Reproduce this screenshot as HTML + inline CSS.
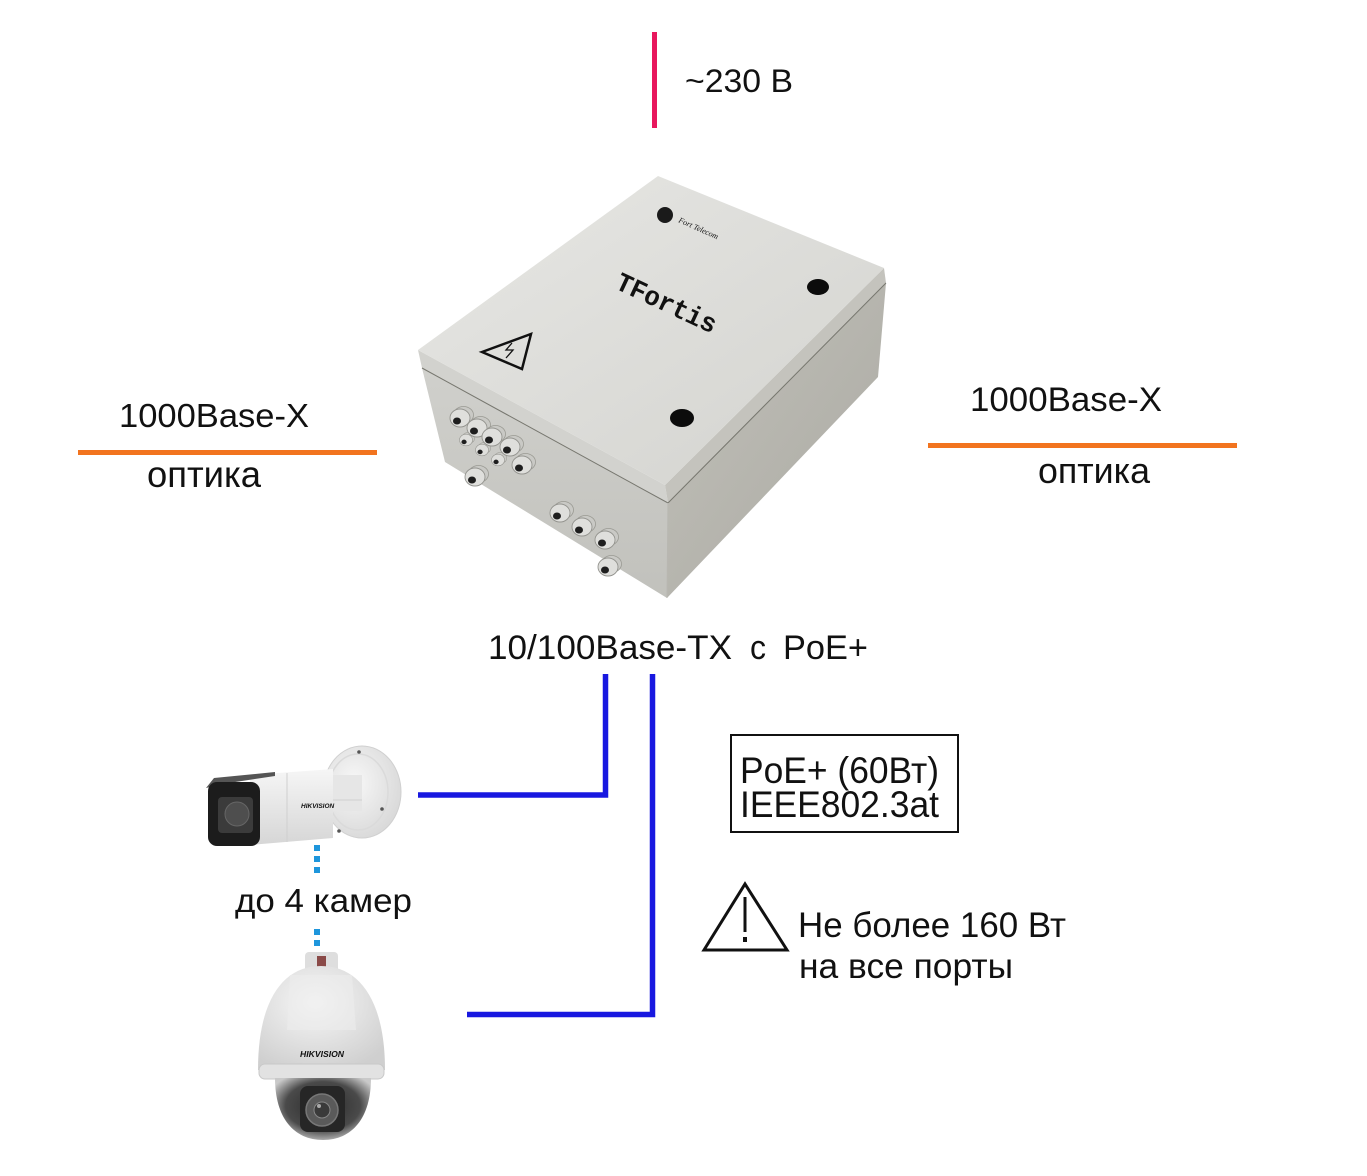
<!DOCTYPE html>
<html><head><meta charset="utf-8"><style>
html,body{margin:0;padding:0;background:#fff;}
svg{display:block}
text{font-family:"Liberation Sans","DejaVu Sans",sans-serif;fill:#111}
</style></head><body>
<svg width="1367" height="1176" viewBox="0 0 1367 1176" xmlns="http://www.w3.org/2000/svg">
<defs>
  <linearGradient id="gTop" x1="0" y1="0" x2="1" y2="1">
    <stop offset="0" stop-color="#e7e7e4"/><stop offset="1" stop-color="#d3d3cf"/>
  </linearGradient>
  <linearGradient id="gLeft" x1="0" y1="0" x2="0" y2="1">
    <stop offset="0" stop-color="#d0d0cc"/><stop offset="1" stop-color="#c1c1bc"/>
  </linearGradient>
  <linearGradient id="gRight" x1="0" y1="0" x2="1" y2="1">
    <stop offset="0" stop-color="#c2c1ba"/><stop offset="1" stop-color="#aaa9a2"/>
  </linearGradient>
  <linearGradient id="gBody" x1="0" y1="0" x2="0" y2="1">
    <stop offset="0" stop-color="#f6f6f6"/><stop offset="1" stop-color="#d6d6d6"/>
  </linearGradient>
  <radialGradient id="gBell" cx="0.45" cy="0.35" r="0.7">
    <stop offset="0" stop-color="#f7f7f7"/><stop offset="1" stop-color="#cfcfcf"/>
  </radialGradient>
  <radialGradient id="gDome" cx="0.5" cy="0.45" r="0.6">
    <stop offset="0" stop-color="#2a2a2a"/><stop offset="0.65" stop-color="#4a4a4a"/><stop offset="1" stop-color="#c9c9c9"/>
  </radialGradient>
  <radialGradient id="gDisk" cx="0.4" cy="0.4" r="0.7">
    <stop offset="0" stop-color="#f8f8f8"/><stop offset="1" stop-color="#d6d6d6"/>
  </radialGradient>
  <g id="gl">
    <ellipse cx="3.5" cy="-3" rx="10" ry="8.5" fill="#c9c9c5" stroke="#9a9a93" stroke-width="0.8"/>
    <ellipse cx="0" cy="0" rx="10" ry="9" fill="#dfdfdc" stroke="#94948f" stroke-width="0.9"/>
    <ellipse cx="-3" cy="3" rx="4" ry="3.5" fill="#1e1e1e"/>
  </g>
</defs>

<!-- power line -->
<rect x="652" y="32" width="5" height="96" fill="#e8175d"/>
<text x="685" y="92" font-size="32" textLength="108" lengthAdjust="spacingAndGlyphs">~230 В</text>

<!-- optical lines -->
<rect x="78" y="450" width="299" height="5" fill="#f2741f"/>
<text x="119" y="427" font-size="33" textLength="190" lengthAdjust="spacingAndGlyphs">1000Base-X</text>
<text x="147" y="487" font-size="37" textLength="114" lengthAdjust="spacingAndGlyphs">оптика</text>

<rect x="928" y="443" width="309" height="5" fill="#f2741f"/>
<text x="970" y="411" font-size="34" textLength="192" lengthAdjust="spacingAndGlyphs">1000Base-X</text>
<text x="1038" y="483" font-size="36" textLength="112" lengthAdjust="spacingAndGlyphs">оптика</text>

<!-- TFortis box -->
<g>
  <polygon points="668,503 886,283 878,377 667,598" fill="url(#gRight)"/>
  <polygon points="422,368 668,503 667,598 445,462" fill="url(#gLeft)"/>
  <polygon points="418,350 665,485 668,503 422,368" fill="#d2d2ce"/>
  <polygon points="665,485 884,268 886,283 668,503" fill="#c4c3bd"/>
  <polygon points="658,176 884,268 665,485 418,350" fill="url(#gTop)"/>
  <polyline points="422,368 668,503 886,283" fill="none" stroke="#77776f" stroke-width="1"/>
  <line x1="668" y1="503" x2="667" y2="598" stroke="#b8b7b1" stroke-width="1"/>

  <circle cx="665" cy="215" r="8" fill="#1a1a1a"/>
  <text x="678" y="222" font-size="8" transform="rotate(24 678 222)" style="font-family:'Liberation Serif',serif;font-style:italic" fill="#222">Fort Telecom</text>
  <text x="614" y="288" font-size="27" font-weight="bold" transform="rotate(25 614 288)" textLength="108" lengthAdjust="spacingAndGlyphs" style="font-family:'Liberation Mono','Liberation Serif',monospace" fill="#151515">TFortis</text>
  <polygon points="482,352 531,334 522,369" fill="none" stroke="#111" stroke-width="2.5" stroke-linejoin="miter"/>
  <polyline points="512,343 506,350 513,350 506,358" fill="none" stroke="#111" stroke-width="1.3"/>
  <ellipse cx="818" cy="287" rx="11" ry="8" fill="#0c0c0c"/>
  <ellipse cx="682" cy="418" rx="12" ry="9" fill="#0c0c0c"/>

  <use href="#gl" transform="translate(466,440) scale(0.65)"/>
  <use href="#gl" transform="translate(482,450) scale(0.65)"/>
  <use href="#gl" transform="translate(498,460) scale(0.65)"/>
  <use href="#gl" transform="translate(460,418)"/>
  <use href="#gl" transform="translate(477,428)"/>
  <use href="#gl" transform="translate(492,437)"/>
  <use href="#gl" transform="translate(510,447)"/>
  <use href="#gl" transform="translate(522,465)"/>
  <use href="#gl" transform="translate(475,477)"/>
  <use href="#gl" transform="translate(608,567)"/>
  <use href="#gl" transform="translate(560,513)"/>
  <use href="#gl" transform="translate(582,527)"/>
  <use href="#gl" transform="translate(605,540)"/>
</g>

<!-- 10/100 label -->
<text x="488" y="659" font-size="34" textLength="244" lengthAdjust="spacingAndGlyphs">10/100Base-TX</text>
<text x="750" y="659" font-size="34" textLength="16" lengthAdjust="spacingAndGlyphs">с</text>
<text x="783" y="659" font-size="34" textLength="85" lengthAdjust="spacingAndGlyphs">PoE+</text>

<!-- blue connectors -->
<path d="M605.5,674 V795 H418" fill="none" stroke="#1818e0" stroke-width="5.5"/>
<path d="M652.5,674 V1014.5 H467" fill="none" stroke="#1818e0" stroke-width="5.5"/>

<!-- PoE box -->
<rect x="731" y="735" width="227" height="97" fill="none" stroke="#111" stroke-width="2"/>
<text x="740" y="783" font-size="37" textLength="199" lengthAdjust="spacingAndGlyphs">PoE+ (60Вт)</text>
<text x="740" y="817" font-size="37" textLength="199" lengthAdjust="spacingAndGlyphs">IEEE802.3at</text>

<!-- warning -->
<polygon points="704,950 745,884 787,950" fill="none" stroke="#111" stroke-width="3" stroke-linejoin="miter"/>
<line x1="745" y1="897" x2="745" y2="932" stroke="#111" stroke-width="3"/>
<rect x="743" y="937" width="4" height="5" fill="#111"/>
<text x="798" y="937" font-size="35" textLength="268" lengthAdjust="spacingAndGlyphs">Не более 160 Вт</text>
<text x="799" y="978" font-size="35" textLength="214" lengthAdjust="spacingAndGlyphs">на все порты</text>

<!-- bullet camera -->
<g>
  <ellipse cx="362" cy="792" rx="39" ry="46" fill="url(#gDisk)" stroke="#d0d0d0" stroke-width="1"/>
  <ellipse cx="358" cy="792" rx="30" ry="38" fill="none" stroke="#dadada" stroke-width="1.5"/>
  <circle cx="359" cy="752" r="1.8" fill="#555"/>
  <circle cx="382" cy="809" r="1.8" fill="#555"/>
  <circle cx="339" cy="831" r="1.8" fill="#555"/>
  <rect x="325" y="775" width="37" height="36" fill="#e6e6e6"/>
  <line x1="325" y1="800" x2="362" y2="800" stroke="#d0d0d0"/>
  <polygon points="250,775 333,769 333,838 250,845" fill="url(#gBody)"/>
  <line x1="287" y1="773" x2="287" y2="842" stroke="#cfcfcf" stroke-width="1"/>
  <polygon points="206,788 214,778 275,772 275,776 222,784" fill="#555"/>
  <rect x="208" y="782" width="52" height="64" rx="9" fill="#1c1c1c"/>
  <rect x="218" y="797" width="35" height="36" rx="4" fill="#3b3b3b"/>
  <circle cx="237" cy="814" r="12" fill="#4e4e4e" stroke="#666" stroke-width="1"/>
  <text x="301" y="808" font-size="6.5" font-style="italic" font-weight="bold" fill="#444">HIKVISION</text>
</g>

<!-- dotted link -->
<g fill="#1e96dc">
  <rect x="314" y="845" width="6" height="6"/>
  <rect x="314" y="856" width="6" height="6"/>
  <rect x="314" y="867" width="6" height="6"/>
  <rect x="314" y="929" width="6" height="6"/>
  <rect x="314" y="940" width="6" height="6"/>
</g>
<text x="235" y="912" font-size="33" textLength="177" lengthAdjust="spacingAndGlyphs">до 4 камер</text>

<!-- dome camera -->
<g>
  <rect x="305" y="952" width="33" height="24" rx="4" fill="#dedede"/>
  <rect x="317" y="956" width="9" height="15" fill="#8a4a48"/>
  <path d="M258,1070 C258,1000 283,966 321,966 C359,966 385,1000 385,1070 Z" fill="url(#gBell)"/>
  <path d="M290,975 L352,975 L356,1030 L287,1030 Z" fill="#ededed" opacity="0.6"/>
  <text x="300" y="1057" font-size="8.5" font-style="italic" font-weight="bold" fill="#222" textLength="44" lengthAdjust="spacingAndGlyphs">HIKVISION</text>
  <rect x="259" y="1064" width="125" height="15" rx="6" fill="#e2e2e2" stroke="#c8c8c8"/>
  <path d="M275,1078 L371,1078 C371,1118 352,1140 323,1140 C294,1140 275,1118 275,1078 Z" fill="url(#gDome)"/>
  <rect x="300" y="1086" width="45" height="46" rx="8" fill="#262626"/>
  <circle cx="322" cy="1110" r="16" fill="#5a5a5a" stroke="#777" stroke-width="1.5"/>
  <circle cx="322" cy="1110" r="8" fill="#3a3a3a" stroke="#888" stroke-width="1"/>
  <circle cx="319" cy="1106" r="2" fill="#aaa"/>
</g>
</svg>
</body></html>
